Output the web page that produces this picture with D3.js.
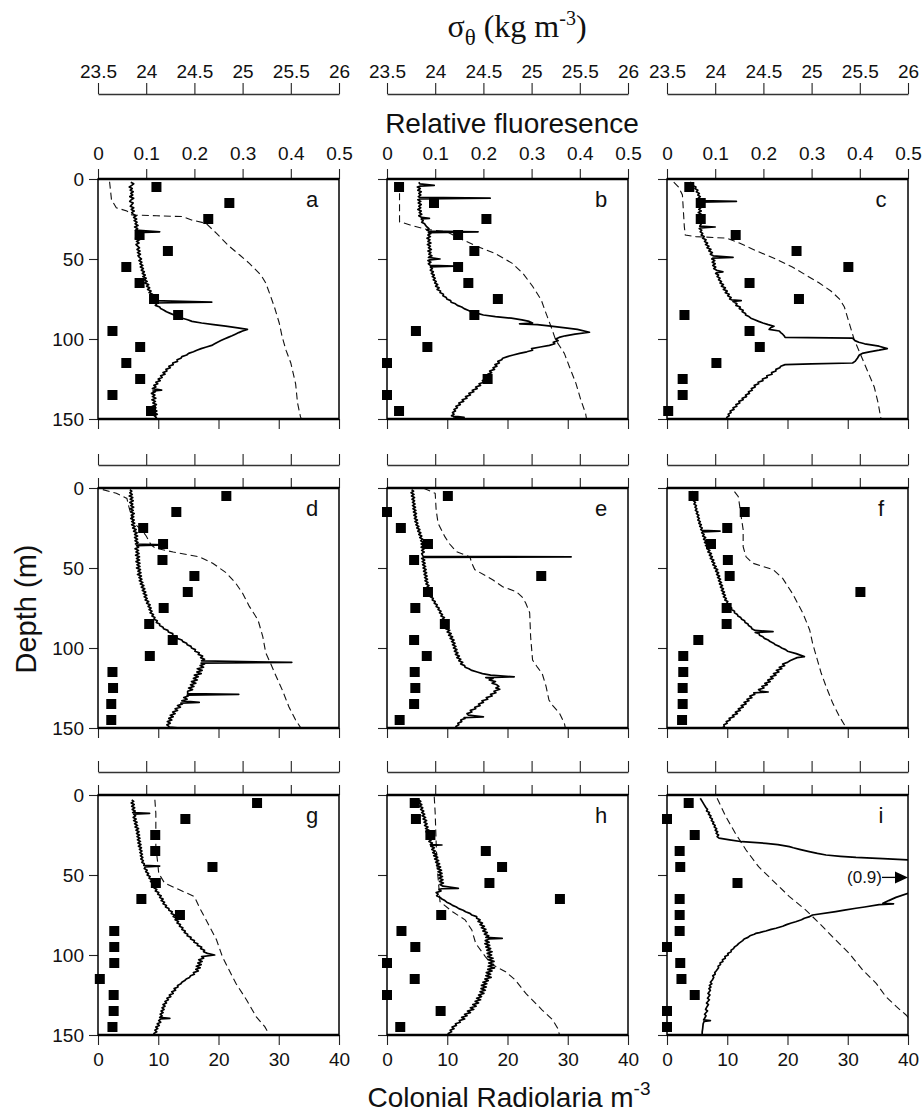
<!DOCTYPE html>
<html>
<head>
<meta charset="utf-8">
<script src="https://cdn.jsdelivr.net/npm/d3@7"></script>
<style>
  body { margin: 0; background: #fff; }
  svg text { font-family: "Liberation Sans", Arial, Helvetica, sans-serif; fill: #111; }
</style>
</head>
<body>
<svg id="chart" width="923" height="1113"></svg>
<script>
// Tick values
const sigmaTicks = [23.5, 24, 24.5, 25, 25.5, 26];
const fluorTicks = [0, 0.1, 0.2, 0.3, 0.4, 0.5];
const radTicks = [0, 10, 20, 30, 40];
const depthTicks = [0, 50, 100, 150];

// Net tow depths (m) for the colonial radiolaria counts
const radDepths = [5, 15, 25, 35, 45, 55, 65, 75, 85, 95, 105, 115, 125, 135, 145];

// Colonial radiolaria m-3, one per tow depth
const radA = [9.7, 21.8, 18.3, 6.9, 11.6, 4.7, 6.9, 9.3, 13.3, 2.4, 7.0, 4.7, 7.0, 2.4, 8.8];
const radB = [2.0, 7.8, 16.5, 11.8, 14.5, 11.8, 13.5, 18.4, 14.5, 4.8, 6.7, 0, 16.7, 0, 2.0];
const radC = [3.7, 5.6, 5.6, 11.4, 21.5, 30.1, 13.7, 21.9, 2.9, 13.7, 15.4, 8.2, 2.6, 2.6, 0.2];
const radD = [21.3, 13.0, 7.5, 10.8, 10.7, 16.0, 14.9, 10.9, 8.5, 12.4, 8.6, 2.4, 2.5, 2.2, 2.2];
const radE = [10.1, 0, 2.3, 6.8, 4.5, 25.6, 6.8, 4.7, 9.6, 4.5, 6.6, 4.6, 4.7, 4.5, 2.1];
const radF = [4.4, 12.9, 10.0, 7.3, 10.1, 10.4, 32.1, 9.9, 9.9, 5.2, 2.7, 2.7, 2.6, 2.6, 2.5];
const radG = [26.4, 14.5, 9.5, 9.5, 19.0, 9.6, 7.2, 13.6, 2.7, 2.7, 2.7, 0.3, 2.6, 2.6, 2.4];
const radH = [4.6, 4.8, 7.2, 16.4, 19.1, 17.0, 28.7, 9.0, 2.4, 4.7, 0, 4.6, 0, 8.9, 2.2];
const radI = [3.6, 0, 4.6, 2.1, 2.2, 11.7, 2.1, 2.1, 2.1, 0, 2.2, 2.4, 4.6, 0, 0];

// Sigma-theta profiles [depth, kg m-3]
const sigmaA = [[1.7,23.62],[13,23.64],[18,23.69],[20,23.80],[22.5,23.85],[23,24.11],[23.5,24.38],[25.6,24.47],[27.7,24.62],[34,24.73],[42,24.86],[47.5,24.97],[52.7,25.07],[60,25.19],[65,25.24],[71.5,25.28],[80,25.33],[90,25.38],[98.5,25.41],[107,25.45],[115,25.50],[128,25.55],[140,25.57],[148.5,25.60],[150,25.61]];
const sigmaB = [[2.7,23.60],[5,23.63],[15,23.63],[26.7,23.63],[28.75,23.74],[31.5,23.91],[33,24.12],[37,24.25],[42,24.43],[46.5,24.62],[52.7,24.80],[59,24.91],[67,25.01],[75.6,25.10],[84,25.15],[92,25.20],[100.6,25.25],[109,25.34],[117,25.39],[127.7,25.46],[138,25.51],[146.5,25.56],[150,25.57]];
const sigmaC = [[2,23.57],[5,23.62],[10,23.66],[20,23.67],[30,23.68],[35,23.69],[36,23.80],[37,24.12],[40,24.25],[45,24.43],[50,24.63],[55,24.80],[60,24.94],[65,25.08],[70,25.20],[75,25.29],[80,25.34],[90,25.39],[100,25.44],[110,25.51],[120,25.58],[130,25.65],[140,25.69],[150,25.72]];
const sigmaD = [[1,23.55],[3.3,23.69],[6.5,23.80],[11.7,23.82],[18,23.85],[22,23.87],[26,23.95],[30,24.00],[35.6,24.05],[37.7,24.10],[40,24.28],[43,24.55],[47,24.69],[53,24.83],[59.6,24.93],[65.8,25.00],[74,25.07],[82.5,25.16],[93,25.21],[103,25.24],[109.6,25.29],[118,25.35],[126,25.41],[136.7,25.48],[145,25.55],[149.6,25.60]];
const sigmaE = [[0.2,23.88],[3.3,24.00],[13.75,24.01],[22,24.03],[30.4,24.10],[35,24.15],[39.8,24.22],[43,24.36],[47,24.38],[51,24.41],[57.5,24.60],[61.7,24.70],[64.8,24.84],[68,24.90],[72,24.94],[78,24.98],[93,24.99],[107.5,25.01],[112,25.06],[116,25.11],[124,25.15],[132.5,25.18],[136,25.22],[140.8,25.29],[147,25.34],[150,25.35]];
const sigmaF = [[2.3,24.20],[5.4,24.24],[18,24.27],[26,24.29],[36.7,24.29],[43,24.32],[47,24.39],[51,24.60],[56.5,24.70],[65.8,24.80],[78.3,24.91],[88.7,24.98],[97,25.01],[105.4,25.05],[115.8,25.10],[124,25.15],[134.6,25.22],[142.9,25.29],[148,25.34],[150,25.35]];
const sigmaG = [[3,24.09],[11.5,24.10],[32.3,24.10],[42.7,24.12],[49,24.13],[55,24.19],[59.4,24.35],[63.5,24.50],[70,24.55],[78,24.62],[90.6,24.73],[101,24.79],[109.4,24.86],[117.7,24.93],[128,25.04],[138.5,25.14],[144.8,25.23],[150,25.28]];
const sigmaH = [[1,23.99],[11.5,24.00],[30,24.01],[45,24.02],[59,24.04],[66.7,24.05],[73,24.18],[78,24.31],[84.4,24.38],[92.7,24.42],[101,24.52],[106,24.59],[110.4,24.73],[115.6,24.83],[124,24.94],[134.4,25.11],[140.6,25.22],[145.8,25.27],[150,25.29]];
const sigmaI = [[2,24.02],[13.5,24.11],[24,24.21],[34.4,24.32],[44.8,24.45],[53,24.59],[63.5,24.77],[71.9,24.94],[80.2,25.08],[90.6,25.25],[99,25.39],[109.4,25.53],[117.7,25.67],[126,25.77],[132.3,25.88],[137.5,25.98],[141,26.03],[150,26.15]];

// Relative fluorescence profiles [depth, value]
const fluorA = [[2,0.068],[3,0.074],[4,0.070],[5,0.065],[6,0.071],[7,0.067],[8,0.073],[9,0.068],[10,0.072],[11,0.066],[12,0.074],[13,0.069],[14,0.066],[15,0.073],[16,0.070],[17,0.067],[18,0.074],[19,0.069],[20,0.075],[21,0.070],[22,0.073],[23,0.079],[24,0.074],[25,0.080],[26,0.075],[27,0.081],[28,0.077],[29,0.083],[30,0.076],[31,0.082],[32,0.078],[33,0.128],[33.5,0.080],[34,0.085],[35,0.079],[36,0.084],[37,0.078],[38,0.086],[39,0.080],[40,0.085],[41,0.079],[43,0.086],[44,0.081],[45,0.087],[46,0.082],[47,0.088],[48,0.083],[49,0.086],[50,0.090],[51,0.085],[52,0.091],[53,0.087],[54,0.093],[55,0.088],[56,0.094],[57,0.090],[58,0.096],[59,0.092],[60,0.098],[61,0.093],[62,0.100],[63,0.096],[64,0.102],[65,0.097],[66,0.105],[67,0.101],[68,0.107],[69,0.103],[70,0.110],[71,0.106],[72,0.113],[73,0.109],[74,0.116],[75,0.112],[76,0.115],[77,0.236],[77.5,0.118],[78,0.122],[79,0.119],[80,0.128],[81,0.130],[82,0.137],[83,0.142],[84,0.150],[85,0.158],[86,0.166],[87,0.175],[88,0.186],[89,0.195],[90,0.215],[91,0.240],[92,0.265],[93,0.290],[94,0.310],[95,0.300],[96,0.292],[97,0.285],[98,0.278],[99,0.270],[100,0.262],[101,0.255],[102,0.248],[103,0.242],[104,0.236],[105,0.225],[106,0.214],[107,0.205],[108,0.198],[109,0.188],[110,0.184],[111,0.174],[112,0.172],[113,0.164],[114,0.165],[115,0.155],[116,0.156],[117,0.147],[118,0.150],[119,0.141],[120,0.143],[121,0.135],[122,0.139],[123,0.130],[124,0.133],[125,0.125],[126,0.129],[127,0.120],[128,0.124],[129,0.116],[130,0.120],[131,0.113],[132,0.132],[132.5,0.114],[133,0.119],[134,0.111],[135,0.118],[136,0.113],[137,0.120],[138,0.112],[139,0.119],[140,0.114],[141,0.121],[142,0.113],[143,0.120],[144,0.115],[145,0.122],[146,0.116],[147,0.123],[148,0.117],[149,0.121],[150,0.118]];
const fluorB = [[2,0.066],[3,0.068],[4,0.098],[4.5,0.068],[5,0.063],[6,0.069],[7,0.064],[8,0.071],[9,0.066],[10,0.070],[11,0.065],[11.5,0.068],[12,0.214],[12.5,0.069],[13,0.064],[14,0.070],[15,0.065],[16,0.071],[17,0.066],[18,0.070],[19,0.064],[20,0.071],[21,0.067],[22,0.072],[23,0.066],[24,0.072],[24.6,0.088],[25,0.071],[26,0.075],[27,0.072],[28,0.078],[29,0.080],[30,0.083],[31,0.087],[32,0.083],[32.5,0.087],[33,0.189],[33.5,0.086],[34,0.091],[35,0.085],[36,0.090],[37,0.083],[38,0.089],[39,0.085],[40,0.091],[41,0.084],[42,0.090],[43,0.086],[44,0.092],[45,0.085],[46,0.091],[47,0.087],[48,0.093],[49,0.086],[50,0.110],[50.5,0.089],[51,0.085],[52,0.091],[53,0.086],[54,0.090],[54.5,0.140],[55,0.090],[56,0.094],[57,0.090],[58,0.096],[59,0.092],[60,0.098],[61,0.094],[62,0.100],[63,0.096],[64,0.102],[65,0.099],[66,0.105],[67,0.101],[68,0.108],[69,0.104],[70,0.111],[71,0.110],[72,0.117],[73,0.116],[74,0.123],[75,0.124],[76,0.132],[77,0.133],[78,0.142],[79,0.146],[80,0.155],[81,0.160],[82,0.168],[83,0.175],[84,0.188],[85,0.200],[86,0.225],[87,0.258],[88,0.280],[89,0.295],[90,0.302],[90.5,0.275],[91,0.312],[92,0.340],[93,0.370],[94,0.395],[95.8,0.420],[97,0.390],[98,0.370],[99,0.357],[100,0.350],[101,0.355],[102,0.345],[103,0.348],[104,0.337],[105,0.318],[106,0.300],[107,0.302],[108,0.290],[109,0.275],[110,0.262],[111,0.250],[112,0.240],[113,0.238],[114,0.230],[115,0.233],[116,0.224],[117,0.228],[118,0.220],[119,0.223],[120,0.213],[121,0.217],[122,0.209],[123,0.212],[124,0.205],[125,0.207],[126,0.198],[127,0.201],[128,0.191],[129,0.194],[130,0.184],[131,0.187],[132,0.177],[133,0.180],[134,0.170],[135,0.173],[136,0.163],[137,0.166],[138,0.156],[139,0.159],[140,0.149],[141,0.152],[142,0.143],[143,0.146],[144,0.139],[145,0.142],[146,0.136],[147,0.139],[148,0.134],[149,0.160],[149.5,0.138],[150,0.140]];
const fluorC = [[2,0.048],[3,0.054],[4,0.053],[5,0.060],[6,0.058],[7,0.064],[8,0.061],[9,0.067],[10,0.064],[11,0.069],[12,0.065],[13.5,0.069],[14,0.144],[14.5,0.068],[15,0.064],[16,0.069],[17,0.065],[18,0.070],[19,0.066],[20,0.071],[21,0.065],[22,0.071],[23,0.066],[24,0.070],[25,0.067],[26,0.072],[27,0.066],[28,0.071],[29.5,0.068],[30,0.100],[30.5,0.071],[31,0.067],[32,0.072],[33,0.069],[34,0.074],[35,0.071],[36,0.077],[37,0.074],[38,0.081],[39,0.078],[40,0.084],[41,0.080],[42,0.087],[43,0.083],[44,0.091],[45,0.087],[46,0.094],[47,0.090],[48,0.096],[49,0.137],[49.5,0.095],[50,0.093],[51,0.099],[52,0.094],[53,0.100],[54,0.095],[55,0.101],[56,0.097],[57,0.103],[58,0.116],[58.5,0.103],[59,0.101],[60,0.107],[61,0.104],[62,0.110],[63,0.107],[64,0.113],[65,0.110],[66,0.117],[67,0.113],[68,0.121],[69,0.117],[70,0.125],[71,0.121],[72,0.129],[73,0.126],[74,0.133],[75,0.130],[75.5,0.134],[76,0.154],[76.5,0.137],[77,0.140],[78,0.145],[79,0.143],[80,0.152],[81,0.150],[82,0.158],[83,0.156],[84,0.163],[85,0.163],[86,0.170],[87,0.174],[88,0.182],[89,0.190],[90,0.199],[91,0.210],[92,0.222],[93,0.215],[94,0.212],[95,0.233],[96,0.236],[97,0.240],[98,0.243],[99,0.245],[99.5,0.385],[101,0.390],[102,0.398],[103,0.410],[104.5,0.440],[106,0.457],[107,0.440],[108,0.420],[109,0.405],[110,0.399],[112,0.395],[114,0.390],[115,0.385],[115.5,0.300],[116,0.245],[117,0.236],[118,0.234],[119,0.226],[120,0.226],[121,0.217],[122,0.218],[123,0.207],[124,0.208],[125,0.198],[126,0.199],[127,0.189],[128,0.190],[129,0.181],[130,0.183],[131,0.175],[132,0.177],[133,0.169],[134,0.171],[135,0.163],[136,0.165],[137,0.156],[138,0.158],[139,0.149],[140,0.151],[141,0.143],[142,0.145],[143,0.137],[144,0.139],[145,0.131],[146,0.133],[147,0.127],[148,0.129],[149,0.124],[150,0.124]];
const fluorD = [[1,0.066],[2,0.070],[3,0.066],[4,0.071],[5,0.065],[6,0.072],[7,0.067],[8,0.073],[9,0.066],[10,0.072],[11,0.068],[12,0.074],[13,0.067],[14,0.073],[15,0.068],[16,0.075],[17,0.069],[18,0.074],[19,0.068],[20,0.075],[21,0.070],[22,0.076],[23,0.070],[24,0.077],[25,0.072],[26,0.079],[27,0.074],[28,0.081],[29,0.076],[30,0.082],[31,0.076],[32,0.082],[33,0.077],[34,0.083],[35,0.078],[35.6,0.138],[36,0.080],[37,0.084],[38,0.077],[39,0.084],[40,0.079],[41,0.085],[42,0.078],[43,0.086],[44,0.080],[45,0.086],[46,0.079],[47,0.087],[48,0.081],[49,0.087],[50,0.080],[51,0.088],[52,0.083],[53,0.089],[54,0.082],[55,0.090],[56,0.085],[57,0.091],[58,0.086],[59,0.093],[60,0.088],[61,0.095],[62,0.090],[63,0.097],[64,0.092],[65,0.099],[66,0.094],[67,0.101],[68,0.096],[69,0.102],[70,0.098],[71,0.105],[72,0.101],[73,0.108],[74,0.104],[75,0.110],[76,0.106],[77,0.112],[78,0.108],[79,0.115],[80,0.112],[81,0.118],[82,0.116],[83,0.123],[84,0.121],[85,0.128],[86,0.128],[87,0.135],[88,0.136],[89,0.145],[90,0.146],[91,0.155],[92,0.155],[93,0.164],[94,0.164],[95,0.174],[96,0.176],[97,0.184],[98,0.185],[99,0.193],[100,0.194],[101,0.202],[102,0.201],[103,0.210],[104,0.208],[105,0.217],[106,0.213],[107,0.221],[108,0.215],[109,0.402],[109.5,0.214],[110,0.221],[111,0.212],[112,0.219],[113,0.206],[114,0.216],[115,0.205],[116,0.214],[117,0.200],[118,0.208],[119,0.198],[120,0.206],[121,0.194],[122,0.203],[123,0.192],[124,0.199],[125,0.188],[126,0.196],[127,0.186],[128.5,0.186],[129,0.292],[129.5,0.185],[130,0.187],[131,0.178],[132,0.185],[133,0.174],[134,0.210],[134.5,0.172],[135,0.175],[136,0.165],[137,0.171],[138,0.160],[139,0.165],[140,0.155],[141,0.160],[142,0.150],[143,0.156],[144,0.147],[145,0.153],[146,0.144],[147,0.150],[148,0.143],[149,0.147],[149.5,0.148],[150,0.170]];
const fluorE = [[1,0.051],[2,0.055],[3,0.050],[4,0.056],[5,0.051],[6,0.057],[7,0.052],[8,0.057],[9,0.053],[10,0.058],[11,0.053],[12,0.059],[13,0.054],[14,0.060],[15,0.055],[16,0.061],[17,0.056],[18,0.061],[19,0.057],[20,0.063],[21,0.058],[22,0.064],[23,0.060],[24,0.066],[25,0.062],[26,0.068],[27,0.064],[28,0.070],[29,0.066],[30,0.072],[31,0.068],[32,0.074],[33,0.070],[34,0.076],[35,0.071],[36,0.076],[37,0.071],[38,0.077],[39,0.072],[40,0.077],[41,0.072],[42.7,0.075],[43,0.382],[43.4,0.076],[44,0.072],[45,0.078],[46,0.073],[47,0.079],[48,0.074],[49,0.080],[50,0.075],[51,0.081],[52,0.076],[53,0.082],[54,0.077],[55,0.083],[56,0.078],[57,0.084],[58,0.079],[59,0.085],[60,0.081],[61,0.087],[62,0.083],[63,0.089],[64,0.085],[65,0.091],[66,0.087],[67,0.093],[68,0.090],[69,0.096],[70,0.094],[71,0.100],[72,0.098],[73,0.104],[74,0.102],[75,0.108],[76,0.106],[77,0.112],[78,0.109],[79,0.115],[80,0.112],[81,0.119],[82,0.115],[83,0.122],[84,0.117],[85,0.124],[86,0.120],[87,0.127],[88,0.122],[89,0.130],[90,0.125],[91,0.133],[92,0.128],[93,0.136],[94,0.131],[95,0.139],[96,0.134],[97,0.141],[98,0.136],[99,0.143],[100,0.138],[101,0.145],[102,0.140],[103,0.147],[104,0.142],[105,0.150],[106,0.145],[107,0.153],[108,0.149],[109,0.157],[110,0.153],[111,0.161],[112,0.162],[113,0.170],[114,0.176],[115,0.187],[116,0.198],[117,0.215],[118,0.264],[118.5,0.205],[119,0.220],[120,0.212],[121,0.225],[122,0.218],[123,0.228],[124,0.232],[125,0.226],[125.8,0.234],[127,0.222],[128,0.226],[129,0.215],[130,0.218],[131,0.206],[132,0.209],[133,0.197],[134,0.200],[135,0.190],[136,0.193],[137,0.182],[138,0.184],[139,0.173],[140,0.176],[141,0.166],[142,0.169],[143,0.200],[143.5,0.160],[144,0.162],[145,0.153],[146,0.155],[147,0.147],[148,0.149],[149,0.143],[150,0.144]];
const fluorF = [[2,0.051],[3,0.054],[4,0.052],[5,0.056],[6,0.053],[7,0.058],[8,0.055],[9,0.059],[10,0.056],[11,0.061],[12,0.058],[13,0.062],[14,0.059],[15,0.064],[16,0.061],[17,0.066],[18,0.063],[19,0.067],[20,0.064],[21,0.069],[22,0.066],[23,0.071],[24,0.068],[25,0.073],[26,0.070],[26.5,0.073],[27,0.110],[27.5,0.074],[28,0.072],[29,0.077],[30,0.074],[31,0.080],[32,0.076],[33,0.082],[34,0.078],[35,0.084],[36,0.080],[37,0.087],[38,0.083],[39,0.089],[40,0.085],[41,0.092],[42,0.088],[43,0.094],[44,0.090],[45,0.097],[46,0.093],[47,0.099],[48,0.095],[49,0.102],[50,0.098],[51,0.105],[52,0.101],[53,0.107],[54,0.103],[55,0.109],[56,0.105],[57,0.111],[58,0.107],[59,0.113],[60,0.109],[61,0.115],[62,0.111],[63,0.117],[64,0.113],[65,0.119],[66,0.115],[67,0.121],[68,0.117],[69,0.123],[70,0.120],[71,0.126],[72,0.124],[73,0.130],[74,0.129],[75,0.134],[76,0.134],[77,0.140],[78,0.140],[79,0.146],[80,0.147],[81,0.153],[82,0.155],[83,0.161],[84,0.162],[85,0.168],[86,0.169],[87,0.175],[88,0.176],[89,0.183],[89.8,0.220],[90.3,0.183],[91,0.191],[92,0.192],[93,0.199],[94,0.202],[95,0.210],[96,0.214],[97,0.221],[98,0.225],[99,0.233],[100,0.238],[101,0.246],[102,0.250],[103.5,0.268],[105.4,0.285],[106,0.270],[107,0.262],[108,0.255],[109,0.250],[110,0.240],[111,0.244],[112,0.233],[113,0.238],[114,0.227],[115,0.232],[116,0.221],[117,0.226],[118,0.215],[119,0.220],[120,0.209],[121,0.214],[122,0.203],[123,0.208],[124,0.197],[125,0.201],[126,0.190],[127,0.194],[127.5,0.210],[128,0.180],[129,0.182],[130,0.172],[131,0.176],[132,0.166],[133,0.170],[134,0.160],[135,0.164],[136,0.154],[137,0.158],[138,0.148],[139,0.152],[140,0.142],[141,0.146],[142,0.136],[143,0.139],[144,0.129],[145,0.131],[146,0.123],[147,0.125],[148,0.118],[149,0.119],[150,0.115]];
const fluorG = [[3,0.070],[4,0.074],[5,0.069],[6,0.075],[7,0.070],[8,0.076],[9,0.071],[10,0.077],[11,0.072],[11.5,0.107],[12,0.074],[13,0.078],[14,0.073],[15,0.079],[16,0.074],[17,0.081],[18,0.076],[19,0.082],[20,0.077],[21,0.084],[22,0.079],[23,0.085],[24,0.080],[25,0.086],[26,0.081],[27,0.087],[28,0.082],[29,0.088],[30,0.083],[31,0.089],[32,0.084],[33,0.090],[34,0.086],[35,0.091],[36,0.087],[37,0.092],[38,0.088],[39,0.093],[40,0.089],[41,0.094],[42,0.091],[43,0.096],[44,0.095],[44.4,0.128],[45,0.098],[46,0.096],[47,0.102],[48,0.099],[49,0.105],[50,0.102],[51,0.108],[52,0.106],[53,0.112],[54,0.109],[55,0.115],[56,0.112],[57,0.119],[58,0.116],[59,0.122],[60,0.119],[61,0.126],[62,0.124],[63,0.131],[64,0.128],[65,0.135],[66,0.131],[67,0.138],[68,0.135],[69,0.142],[70,0.140],[71,0.147],[72,0.147],[73,0.154],[74,0.152],[75,0.159],[76,0.156],[77,0.163],[78,0.160],[79,0.167],[80,0.164],[81,0.171],[82,0.169],[83,0.176],[84,0.174],[85,0.181],[86,0.179],[87,0.186],[88,0.185],[89,0.193],[90,0.192],[91,0.200],[92,0.199],[93,0.207],[94,0.206],[95,0.215],[96,0.213],[97,0.221],[98,0.219],[99,0.227],[100,0.242],[101,0.215],[102,0.219],[103,0.209],[104,0.216],[105,0.207],[106,0.214],[107,0.204],[108,0.212],[109,0.203],[110,0.208],[111,0.198],[112,0.200],[113,0.192],[114,0.190],[115,0.183],[116,0.180],[117,0.174],[118,0.172],[119,0.165],[120,0.166],[121,0.158],[122,0.161],[123,0.153],[124,0.156],[125,0.148],[126,0.151],[127,0.143],[128,0.146],[129,0.139],[130,0.142],[131,0.135],[132,0.139],[133,0.133],[134,0.137],[135,0.131],[136,0.135],[137,0.129],[138,0.133],[139,0.128],[139.6,0.149],[140,0.130],[141,0.126],[142,0.130],[143,0.123],[144,0.127],[145,0.120],[146,0.124],[147,0.118],[148,0.122],[149,0.116],[150,0.118]];
const fluorH = [[3,0.066],[4,0.070],[5,0.066],[6,0.072],[7,0.068],[8,0.074],[9,0.070],[10,0.076],[11,0.072],[12,0.078],[13,0.073],[14,0.080],[15,0.075],[16,0.082],[17,0.077],[18,0.083],[19,0.078],[20,0.085],[21,0.080],[22,0.087],[23,0.081],[24,0.088],[25,0.083],[26,0.090],[27,0.085],[28,0.092],[29,0.087],[30,0.094],[31,0.090],[31.25,0.114],[31.5,0.093],[32,0.091],[33,0.098],[34,0.093],[35,0.100],[36,0.095],[37,0.103],[38,0.097],[39,0.105],[40,0.099],[41,0.107],[42,0.101],[43,0.109],[44,0.103],[45,0.111],[46,0.105],[47,0.113],[48,0.106],[49,0.114],[50,0.107],[51,0.115],[52,0.108],[53,0.116],[54,0.109],[55,0.117],[56,0.110],[57,0.116],[58.3,0.148],[58.6,0.114],[59,0.108],[60,0.112],[61,0.102],[62,0.106],[63,0.103],[64,0.110],[65,0.114],[66,0.120],[67,0.124],[68,0.131],[69,0.136],[70,0.144],[71,0.149],[72,0.158],[73,0.163],[74,0.172],[75,0.176],[76,0.186],[77,0.186],[78,0.193],[79,0.189],[80,0.198],[81,0.193],[82,0.202],[83,0.196],[84,0.205],[85,0.199],[86,0.208],[87,0.202],[88,0.211],[89,0.205],[89.6,0.239],[90,0.212],[91,0.204],[92,0.212],[93,0.203],[94,0.213],[95,0.205],[96,0.215],[97,0.207],[98,0.218],[99,0.208],[100,0.217],[101,0.209],[102,0.220],[103,0.210],[104,0.222],[105,0.211],[106,0.221],[107,0.210],[108,0.223],[109,0.209],[110,0.218],[111,0.206],[112,0.215],[113,0.205],[114,0.216],[115,0.203],[116,0.210],[117,0.199],[118,0.207],[119,0.196],[120,0.206],[121,0.195],[122,0.204],[123,0.193],[124,0.201],[125,0.190],[126,0.196],[127,0.186],[128,0.194],[129,0.183],[130,0.190],[131,0.178],[132,0.185],[133,0.173],[134,0.180],[135,0.167],[136,0.173],[137,0.161],[138,0.166],[139,0.155],[140,0.161],[141,0.150],[142,0.152],[143,0.142],[144,0.144],[145,0.135],[146,0.139],[147,0.131],[148,0.134],[149,0.127],[150,0.127]];
const fluorI = [[2,0.069],[4,0.073],[6,0.077],[8,0.081],[9,0.084],[10,0.082],[11,0.088],[12,0.086],[13,0.091],[14,0.089],[15,0.094],[16,0.092],[17,0.097],[18,0.095],[19,0.100],[20,0.098],[21,0.103],[22,0.100],[23,0.105],[24,0.102],[25,0.107],[26,0.104],[27,0.108],[28,0.130],[29.2,0.156],[30.2,0.205],[31,0.230],[32.3,0.254],[33,0.262],[34,0.275],[35.4,0.295],[36.5,0.312],[37.5,0.330],[38.3,0.360],[39,0.392],[39.8,0.448],[40.6,0.500],[42,0.600],[45,0.750],[50,0.900],[55,0.800],[58,0.650],[61.5,0.500],[64,0.475],[66,0.460],[67.7,0.448],[68,0.470],[68.5,0.440],[70,0.410],[70.8,0.392],[72,0.368],[72.9,0.350],[75,0.302],[76,0.296],[77,0.285],[78,0.279],[79.2,0.267],[80,0.258],[81,0.248],[82,0.240],[83.3,0.226],[84,0.216],[85,0.205],[86,0.192],[86.5,0.184],[87,0.181],[88,0.172],[89,0.168],[90,0.160],[91,0.157],[92.7,0.149],[94,0.145],[95,0.140],[96,0.138],[97,0.133],[98,0.133],[99,0.126],[100,0.127],[101,0.120],[102,0.121],[103,0.115],[104,0.116],[105,0.110],[106,0.111],[107,0.106],[108,0.107],[110,0.102],[111,0.099],[112,0.100],[113,0.095],[114,0.097],[115.6,0.094],[117,0.090],[118,0.093],[119,0.088],[120,0.091],[121,0.087],[122,0.090],[124,0.085],[125,0.089],[127,0.084],[128,0.088],[130,0.082],[131,0.086],[132.3,0.083],[134,0.080],[135,0.084],[137,0.078],[138,0.081],[140.6,0.076],[141,0.090],[141.5,0.077],[143,0.075],[146,0.074],[148,0.073],[150,0.073]];

const panels = [
  { id: 'a', sigma: sigmaA, fluor: fluorA, rad: radA },
  { id: 'b', sigma: sigmaB, fluor: fluorB, rad: radB },
  { id: 'c', sigma: sigmaC, fluor: fluorC, rad: radC },
  { id: 'd', sigma: sigmaD, fluor: fluorD, rad: radD },
  { id: 'e', sigma: sigmaE, fluor: fluorE, rad: radE },
  { id: 'f', sigma: sigmaF, fluor: fluorF, rad: radF },
  { id: 'g', sigma: sigmaG, fluor: fluorG, rad: radG },
  { id: 'h', sigma: sigmaH, fluor: fluorH, rad: radH },
  { id: 'i', sigma: sigmaI, fluor: fluorI, rad: radI }
];

const colX = [98, 387, 667];   // left edge of each panel column
const rowY = [179, 488, 795];  // top edge of each panel row
const pw = 241, ph = 240;
const tickFont = 19;

const sx = d3.scaleLinear().domain([23.5, 26]).range([0, pw]);
const fx = d3.scaleLinear().domain([0, 0.5]).range([0, pw]);
const rx = d3.scaleLinear().domain([0, 40]).range([0, pw]);
const y = d3.scaleLinear().domain([0, 150]).range([0, ph]);

const svg = d3.select('#chart');
const fmt = d3.format('');
const blank = () => '';

function styleAxis(sel, keepDomain) {
  sel.attr('font-size', tickFont)
     .attr('font-family', '"Liberation Sans", Arial, sans-serif');
  if (!keepDomain) sel.select('.domain').remove();
  sel.selectAll('.tick line').attr('stroke', '#222').attr('stroke-width', 1.1);
  sel.selectAll('.tick text').attr('fill', '#111');
}

panels.forEach((p, i) => {
  const col = i % 3, row = Math.floor(i / 3);
  const g = svg.append('g').attr('transform', `translate(${colX[col]},${rowY[row]})`);

  // sigma-theta axis floating above each panel
  const sAxis = g.append('g')
    .attr('transform', `translate(0,${row === 0 ? -85 : -23})`)
    .call(d3.axisTop(sx).tickValues(sigmaTicks).tickSize(11).tickSizeOuter(0)
      .tickPadding(5).tickFormat(row === 0 ? fmt : blank));
  styleAxis(sAxis, true);
  sAxis.select('.domain').attr('stroke', '#333').attr('stroke-width', 1.6);

  // fluorescence ticks on top edge
  const fAxis = g.append('g')
    .call(d3.axisTop(fx).tickValues(fluorTicks).tickSize(10)
      .tickPadding(9).tickFormat(row === 0 ? fmt : blank));
  styleAxis(fAxis);

  // depth ticks on left edge
  const yAxis = g.append('g')
    .call(d3.axisLeft(y).tickValues(depthTicks).tickSize(9)
      .tickPadding(5).tickFormat(col === 0 ? fmt : blank));
  styleAxis(yAxis);

  // radiolaria ticks on bottom edge
  const rAxis = g.append('g')
    .attr('transform', `translate(0,${ph})`)
    .call(d3.axisBottom(rx).tickValues(radTicks).tickSize(10)
      .tickPadding(8).tickFormat(row === 2 ? fmt : blank));
  styleAxis(rAxis);

  const clipId = 'clip-' + p.id;
  g.append('clipPath').attr('id', clipId)
    .append('rect').attr('width', pw).attr('height', ph);

  const plot = g.append('g').attr('clip-path', `url(#${clipId})`);

  // density, dashed
  plot.append('path')
    .datum(p.sigma)
    .attr('fill', 'none')
    .attr('stroke', '#111')
    .attr('stroke-width', 1.1)
    .attr('stroke-dasharray', '7,4')
    .attr('d', d3.line().x(d => sx(d[1])).y(d => y(d[0])));

  // fluorescence, solid
  plot.append('path')
    .datum(p.fluor)
    .attr('fill', 'none')
    .attr('stroke', '#000')
    .attr('stroke-width', 1.7)
    .attr('stroke-linejoin', 'round')
    .attr('d', d3.line().x(d => fx(d[1])).y(d => y(d[0])));

  // frame: thin sides, heavy top and bottom
  g.append('rect')
    .attr('width', pw).attr('height', ph)
    .attr('fill', 'none').attr('stroke', '#000').attr('stroke-width', 1.5);
  [0, ph].forEach(yy => {
    g.append('line').attr('x1', 0).attr('x2', pw).attr('y1', yy).attr('y2', yy)
      .attr('stroke', '#000').attr('stroke-width', 2.6);
  });

  // colonial radiolaria, squares
  g.selectAll('rect.sq')
    .data(p.rad.map((c, k) => ({ depth: radDepths[k], c })))
    .join('rect')
      .attr('class', 'sq')
      .attr('x', d => rx(d.c) - 5)
      .attr('y', d => y(d.depth) - 5)
      .attr('width', 10)
      .attr('height', 10)
      .attr('fill', '#000');

  g.append('text')
    .attr('x', pw - 27)
    .attr('y', 28)
    .attr('text-anchor', 'middle')
    .attr('font-size', 22)
    .text(p.id);

  // off-scale fluorescence maximum in panel i
  if (p.id === 'i') {
    const ay = y(51.5);
    g.append('text')
      .attr('x', pw - 26).attr('y', ay + 6)
      .attr('text-anchor', 'end')
      .attr('font-size', 17)
      .text('(0.9)');
    g.append('line')
      .attr('x1', pw - 26).attr('x2', pw - 12).attr('y1', ay).attr('y2', ay)
      .attr('stroke', '#000').attr('stroke-width', 1.3);
    g.append('path')
      .attr('d', `M${pw - 13},${ay - 6}L${pw},${ay}L${pw - 13},${ay + 6}Z`)
      .attr('fill', '#000');
  }
});

// Axis titles
const sigTitle = svg.append('text')
  .attr('x', 517).attr('y', 37)
  .attr('text-anchor', 'middle')
  .attr('font-size', 32)
  .style('font-family', '"Liberation Serif", "Times New Roman", serif');
sigTitle.append('tspan').text('σ');
sigTitle.append('tspan').attr('font-size', 23).attr('dy', 8).text('θ');
sigTitle.append('tspan').attr('dy', -8).text(' (kg m');
sigTitle.append('tspan').attr('font-size', 20).attr('dy', -12).text('-3');
sigTitle.append('tspan').attr('dy', 12).text(')');

svg.append('text')
  .attr('x', 512).attr('y', 133)
  .attr('text-anchor', 'middle')
  .attr('font-size', 28)
  .text('Relative fluoresence');

svg.append('text')
  .attr('transform', 'translate(36,609) rotate(-90)')
  .attr('text-anchor', 'middle')
  .attr('font-size', 29)
  .text('Depth (m)');

const radTitle = svg.append('text')
  .attr('x', 509).attr('y', 1107)
  .attr('text-anchor', 'middle')
  .attr('font-size', 28);
radTitle.append('tspan').text('Colonial Radiolaria m');
radTitle.append('tspan').attr('font-size', 19).attr('dy', -12).text('-3');
</script>
</body>
</html>
